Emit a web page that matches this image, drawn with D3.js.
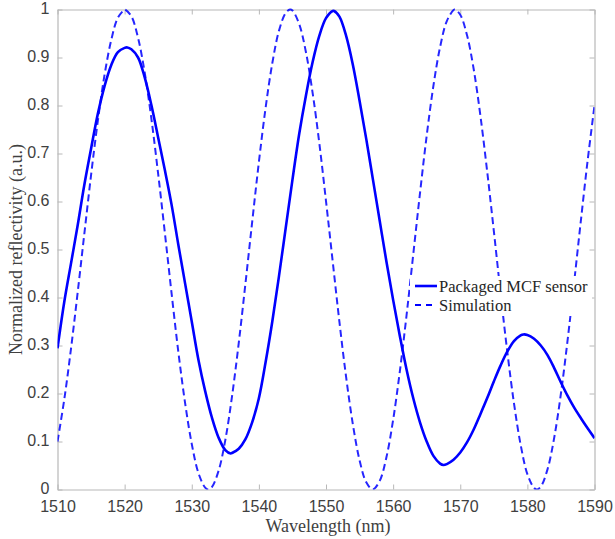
<!DOCTYPE html>
<html>
<head>
<meta charset="utf-8">
<script src="https://cdn.jsdelivr.net/npm/d3@7"></script>
<style>
  html, body { margin: 0; padding: 0; background: #fff; }
  svg { display: block; }
</style>
</head>
<body>
<svg id="chart" width="615" height="539"></svg>
<script>
// ---- data ----
const xTicks = [1510, 1520, 1530, 1540, 1550, 1560, 1570, 1580, 1590];
const yTicks = [0, 0.1, 0.2, 0.3, 0.4, 0.5, 0.6, 0.7, 0.8, 0.9, 1];
const yTickLabels = ["0", "0.1", "0.2", "0.3", "0.4", "0.5", "0.6", "0.7", "0.8", "0.9", "1"];
const seriesNames = ["Packaged MCF sensor", "Simulation"];

const measuredWavelength = [
  1510, 1511, 1512, 1513, 1514, 1515, 1516, 1517, 1518, 1519, 1520, 1520.4,
  1521, 1522, 1523, 1524, 1525, 1526, 1527, 1528, 1529, 1530, 1531, 1532,
  1533, 1534, 1535, 1535.8, 1536, 1537, 1538, 1539, 1540, 1541, 1542, 1543,
  1544, 1545, 1546, 1547, 1548, 1549, 1550, 1551, 1551.2, 1552, 1553, 1554,
  1555, 1556, 1557, 1558, 1559, 1560, 1561, 1562, 1563, 1564, 1565, 1566,
  1567, 1567.5, 1568, 1569, 1570, 1571, 1572, 1573, 1574, 1575, 1576, 1577,
  1578, 1579, 1579.4, 1580, 1581, 1582, 1583, 1584, 1585, 1586, 1587, 1588,
  1589, 1590
];
const measuredValue = [
  0.294, 0.39, 0.47, 0.55, 0.635, 0.71, 0.782, 0.84, 0.884, 0.911, 0.920, 0.921,
  0.917, 0.900, 0.858, 0.80, 0.733, 0.665, 0.593, 0.51, 0.43, 0.35, 0.27, 0.205,
  0.15, 0.108, 0.082, 0.075, 0.076, 0.085, 0.105, 0.14, 0.19, 0.265, 0.35, 0.445,
  0.545, 0.645, 0.74, 0.82, 0.89, 0.945, 0.982, 0.997, 0.997, 0.985, 0.945, 0.885,
  0.81, 0.73, 0.645, 0.56, 0.475, 0.395, 0.32, 0.25, 0.19, 0.14, 0.10, 0.07,
  0.054, 0.051, 0.053, 0.062, 0.077, 0.098, 0.125, 0.157, 0.19, 0.225, 0.258, 0.287,
  0.309, 0.321, 0.323, 0.322, 0.314, 0.300, 0.280, 0.253, 0.223, 0.195, 0.17, 0.148,
  0.127, 0.107
];

const simWavelength = [
  1510, 1511, 1512, 1513, 1514, 1515, 1516, 1517, 1518, 1519, 1520, 1520.06,
  1521, 1522, 1523, 1524, 1525, 1526, 1527, 1528, 1529, 1530, 1531, 1532, 1532.47,
  1533, 1534, 1535, 1536, 1537, 1538, 1539, 1540, 1541, 1542, 1543, 1544, 1544.64,
  1545, 1546, 1547, 1548, 1549, 1550, 1551, 1552, 1553, 1554, 1555, 1556, 1556.96,
  1558, 1559, 1560, 1561, 1562, 1563, 1564, 1565, 1566, 1567, 1568, 1569, 1569.2,
  1570, 1571, 1572, 1573, 1574, 1575, 1576, 1577, 1578, 1579, 1580, 1581, 1581.4,
  1582, 1583, 1584, 1585, 1586, 1587, 1588, 1589, 1590
];
const simValue = [
  0.100, 0.187, 0.292, 0.410, 0.533, 0.655, 0.767, 0.863, 0.936, 0.983, 1.000, 1.000,
  0.986, 0.941, 0.868, 0.771, 0.657, 0.534, 0.408, 0.287, 0.181, 0.095, 0.034, 0.004, 0,
  0.005, 0.039, 0.103, 0.194, 0.305, 0.429, 0.557, 0.682, 0.795, 0.888, 0.956, 0.993, 1.000,
  0.998, 0.970, 0.912, 0.827, 0.722, 0.601, 0.475, 0.349, 0.234, 0.136, 0.061, 0.015, 0,
  0.018, 0.067, 0.145, 0.246, 0.363, 0.490, 0.617, 0.737, 0.841, 0.922, 0.976, 0.999, 1.000,
  0.989, 0.947, 0.876, 0.779, 0.664, 0.539, 0.410, 0.288, 0.180, 0.093, 0.032, 0.003, 0,
  0.006, 0.042, 0.108, 0.200, 0.312, 0.436, 0.564, 0.688, 0.800
];

// ---- layout ----
const W = 615, H = 539;
const plot = { left: 57.5, right: 594.5, top: 9.5, bottom: 489.5 };
const axisColor = "#b8b8b8";
const textColor = "#404040";
const lineColor = "#0000ff";
const sansFont = "'Liberation Sans', Arial, Helvetica, sans-serif";
const serifFont = "'Liberation Serif', 'Times New Roman', Times, serif";

const svg = d3.select("#chart");

const x = d3.scaleLinear().domain([1510, 1590]).range([plot.left, plot.right]);
const y = d3.scaleLinear().domain([0, 1]).range([plot.bottom, plot.top]);

svg.append("rect").attr("x", 0).attr("y", 0).attr("width", W).attr("height", H).attr("fill", "#fff");

// axes with inward ticks
const tickLen = 5;
const xAxisBottom = d3.axisBottom(x).tickValues(xTicks).tickFormat(d3.format("d")).tickSizeInner(-tickLen).tickSizeOuter(0).tickPadding(11);
const xAxisTop = d3.axisTop(x).tickValues(xTicks).tickFormat("").tickSizeInner(-tickLen).tickSizeOuter(0);
const yAxisLeft = d3.axisLeft(y).tickValues(yTicks).tickFormat((d, i) => yTickLabels[i]).tickSizeInner(-tickLen).tickSizeOuter(0).tickPadding(8);
const yAxisRight = d3.axisRight(y).tickValues(yTicks).tickFormat("").tickSizeInner(-tickLen).tickSizeOuter(0);

function styleAxis(g) {
  g.select(".domain").attr("stroke", axisColor).attr("stroke-width", 1.2);
  g.selectAll(".tick line").attr("stroke", axisColor).attr("stroke-width", 1);
  g.selectAll(".tick text").attr("fill", textColor)
    .style("font-family", sansFont).style("font-size", "16px");
}

svg.append("g").attr("transform", `translate(0,${plot.bottom})`).call(xAxisBottom).call(styleAxis);
svg.append("g").attr("transform", `translate(0,${plot.top})`).call(xAxisTop).call(styleAxis);
svg.append("g").attr("transform", `translate(${plot.left},0)`).call(yAxisLeft).call(styleAxis)
  .selectAll(".tick text").attr("dy", "0.25em");
svg.append("g").attr("transform", `translate(${plot.right},0)`).call(yAxisRight).call(styleAxis);

// clip
svg.append("clipPath").attr("id", "clip").append("rect")
  .attr("x", plot.left).attr("y", plot.top - 2).attr("width", plot.right - plot.left).attr("height", plot.bottom - plot.top + 2);

const line = d3.line().x(d => x(d[0])).y(d => y(d[1])).curve(d3.curveCatmullRom.alpha(0.5));

const measured = measuredWavelength.map((w, i) => [w, measuredValue[i]]);
const sim = simWavelength.map((w, i) => [w, simValue[i]]);

const lines = svg.append("g").attr("clip-path", "url(#clip)");
lines.append("path").datum(sim).attr("d", line)
  .attr("fill", "none").attr("stroke", lineColor).attr("stroke-width", 2)
  .attr("stroke-dasharray", "7,4").attr("opacity", 0.85);
lines.append("path").datum(measured).attr("d", line)
  .attr("fill", "none").attr("stroke", lineColor).attr("stroke-width", 2.6);

// legend (white box, no border)
const lg = svg.append("g");
lg.append("rect").attr("x", 410).attr("y", 276).attr("width", 182).attr("height", 40).attr("fill", "#fff");
const legendItems = [
  { name: seriesNames[0], dash: null, width: 2.6, yy: 286 },
  { name: seriesNames[1], dash: "6,5", width: 2, yy: 305 }
];
legendItems.forEach(it => {
  lg.append("line").attr("x1", 415).attr("x2", 437).attr("y1", it.yy).attr("y2", it.yy)
    .attr("stroke", lineColor).attr("stroke-width", it.width)
    .attr("stroke-dasharray", it.dash);
  lg.append("text").attr("x", 439).attr("y", it.yy).attr("dy", "0.35em")
    .attr("fill", "#262626")
    .style("font-family", serifFont).style("font-size", "16.5px")
    .text(it.name);
});

// axis labels
svg.append("text").attr("x", (plot.left + plot.right) / 2 + 2).attr("y", 532)
  .attr("text-anchor", "middle").attr("fill", textColor)
  .style("font-family", serifFont).style("font-size", "18px")
  .text("Wavelength (nm)");
svg.append("text").attr("transform", `translate(22,${(plot.top + plot.bottom) / 2}) rotate(-90)`)
  .attr("text-anchor", "middle").attr("fill", textColor)
  .style("font-family", serifFont).style("font-size", "18px")
  .text("Normalized reflectivity (a.u.)");
</script>
</body>
</html>
